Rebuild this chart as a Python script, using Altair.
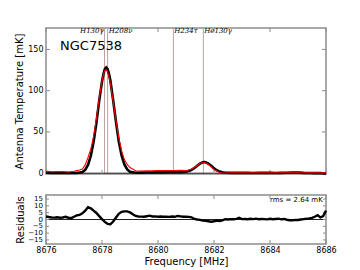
import altair as alt
import pandas as pd

# Spectrum (top panel)
freq = [8676.0, 8676.2, 8676.4, 8676.6, 8676.8, 8677.0, 8677.1, 8677.2, 8677.3, 8677.4,
        8677.5, 8677.6, 8677.7, 8677.8, 8677.9, 8678.0, 8678.05, 8678.1, 8678.15, 8678.2,
        8678.25, 8678.3, 8678.4, 8678.5, 8678.6, 8678.7, 8678.8, 8678.9, 8679.0, 8679.2,
        8679.4, 8679.6, 8679.8, 8680.0, 8680.2, 8680.4, 8680.6, 8680.8, 8681.0, 8681.1,
        8681.2, 8681.3, 8681.4, 8681.5, 8681.6, 8681.65, 8681.7, 8681.8, 8681.9, 8682.0,
        8682.1, 8682.2, 8682.3, 8682.4, 8682.6, 8682.8, 8683.0, 8683.2, 8683.4, 8683.6,
        8683.8, 8684.0, 8684.2, 8684.4, 8684.6, 8684.8, 8685.0, 8685.2, 8685.4, 8685.6,
        8685.8, 8686.0]
temp_data = [0.5, 0.3, 0.6, 0.4, 0.2, 0.3, 0.4, 0.8, 1.5, 4.0,
             10.0, 21.0, 38.0, 61.0, 88.0, 111.0, 120.0, 126.0, 128.0, 126.0,
             120.5, 112.0, 88.0, 62.0, 38.5, 21.5, 10.5, 4.6, 1.8, 0.6,
             0.7, 0.8, 0.9, 1.0, 1.0, 1.1, 1.1, 1.2, 1.8, 2.6,
             4.0, 6.3, 9.1, 11.6, 13.2, 13.4, 13.2, 11.6, 9.0, 6.0,
             3.6, 1.9, 1.0, 0.6, 0.4, 0.5, 0.4, 0.5, 0.3, 0.4,
             0.5, 0.4, 0.3, 0.4, 0.6, 0.9, 0.8, 0.4, 0.3, 0.1,
             0.3, -0.5]
temp_model = [2.5, 1.8, 2.1, 1.9, 1.4, 2.3, 3.1, 3.8, 5.0, 10.0,
              19.0, 29.0, 44.5, 66.0, 90.5, 111.5, 119.5, 124.5, 125.5, 123.0,
              116.8, 108.5, 86.5, 63.5, 42.5, 27.0, 16.5, 10.6, 6.8, 3.0,
              2.7, 2.9, 3.0, 3.1, 3.1, 3.2, 3.3, 3.4, 3.3, 3.8,
              5.0, 6.8, 9.3, 11.6, 12.9, 12.8, 12.5, 10.6, 7.8, 4.5,
              2.3, 0.9, 0.4, 0.3, 0.5, 0.6, 0.6, 0.6, 0.5, 0.5,
              0.5, 0.5, 0.5, 0.5, 0.5, 0.5, 0.5, 0.5, 0.4, 0.4,
              0.4, 0.4]

# Residuals (bottom panel)
res_freq = [8676.0, 8676.1, 8676.2, 8676.3, 8676.4, 8676.5, 8676.6, 8676.7, 8676.8, 8676.9,
            8677.0, 8677.1, 8677.2, 8677.3, 8677.4, 8677.5, 8677.6, 8677.7, 8677.8, 8677.9,
            8678.0, 8678.1, 8678.2, 8678.3, 8678.4, 8678.5, 8678.6, 8678.7, 8678.8, 8678.9,
            8679.0, 8679.1, 8679.2, 8679.3, 8679.4, 8679.5, 8679.6, 8679.7, 8679.8, 8679.9,
            8680.0, 8680.1, 8680.2, 8680.3, 8680.4, 8680.5, 8680.6, 8680.7, 8680.8, 8680.9,
            8681.0, 8681.1, 8681.2, 8681.3, 8681.4, 8681.5, 8681.6, 8681.7, 8681.8, 8681.9,
            8682.0, 8682.1, 8682.2, 8682.3, 8682.4, 8682.5, 8682.6, 8682.7, 8682.8, 8682.9,
            8683.0, 8683.1, 8683.2, 8683.3, 8683.4, 8683.5, 8683.6, 8683.7, 8683.8, 8683.9,
            8684.0, 8684.1, 8684.2, 8684.3, 8684.4, 8684.5, 8684.6, 8684.7, 8684.8, 8684.9,
            8685.0, 8685.1, 8685.2, 8685.3, 8685.4, 8685.5, 8685.6, 8685.7, 8685.8, 8685.9,
            8686.0]
residual = [2.2, 1.8, 1.5, 1.4, 1.6, 1.3, 1.5, 2.0, 1.3, 1.0,
            2.0, 3.0, 3.4, 4.5, 6.5, 9.0, 8.2, 6.5, 4.8, 2.5,
            0.3, -1.8, -3.2, -3.5, -1.5, 1.5, 4.2, 5.6, 6.0, 6.0,
            5.2, 3.8, 2.6, 2.2, 2.1, 2.0, 2.4, 2.8, 2.2, 2.3,
            2.0, 2.2, 2.0, 2.1, 1.9, 2.2, 2.0, 2.6, 2.3, 2.0,
            2.1, 1.9, 1.6, 0.4, 0.0, -0.3, -0.8, -1.0, -1.3, -1.6,
            -1.3, -0.8, -1.2, -0.6, 0.2, 0.0, 0.3, 0.2, 0.5, 1.2,
            0.3, 0.4, 0.2, 0.5, 0.3, 0.6, 0.2, 0.4, 0.3, 0.1,
            0.5, 0.2, 0.4, 0.6, 0.1, 0.4, -0.2, -0.5, -0.6, -0.3,
            -0.4, 0.0, 0.3, 0.5, 0.8, 1.2, 2.0, 3.2, 1.5, 2.5,
            6.5]

# Line identifications
line_names = ["H130γ", "H208ν", "H234τ", "He130γ"]
line_freq = [8678.09, 8678.20, 8680.55, 8681.62]
label_freq = [8678.06, 8678.24, 8680.58, 8681.65]
label_align = ["right", "left", "left", "left"]

x_ticks = [8676, 8678, 8680, 8682, 8684, 8686]
top_y_ticks = [0, 50, 100, 150]
res_y_ticks = [-15, -10, -5, 0, 5, 10, 15]
res_y_labels = ["−15", "−10", "−5", "0", "5", "10", "15"]

W, H1, H2 = 280, 146, 49
FRAME = "#8c8c8c"
FONT = "DejaVu Sans"

xscale = alt.Scale(domain=[8676, 8686], nice=False, zero=False)
yscale_top = alt.Scale(domain=[-1, 176], nice=False, zero=False)
yscale_res = alt.Scale(domain=[-18, 18], nice=False, zero=False)

spec = pd.DataFrame({"freq": freq, "data": temp_data, "model": temp_model})
res = pd.DataFrame({"freq": res_freq, "res": residual})
lines = pd.DataFrame({"name": line_names, "freq": line_freq, "lfreq": label_freq,
                      "align": label_align, "y": [172] * 4})
xt = pd.DataFrame({"x": x_ticks})
yt_top = pd.DataFrame({"y": top_y_ticks})
yt_res = pd.DataFrame({"y": res_y_ticks, "lab": res_y_labels})
zero = pd.DataFrame({"y": [0]})

x_noaxis = alt.X("freq:Q", scale=xscale, axis=None)

# ---------- top panel ----------
vlines = alt.Chart(lines).mark_rule(color="#bda3a3", strokeWidth=1).encode(
    x=alt.X("freq:Q", scale=xscale, axis=None))

zero_top = alt.Chart(zero).mark_rule(color="#222222", strokeWidth=1).encode(
    y=alt.Y("y:Q", scale=yscale_top))

data_line = alt.Chart(spec).mark_line(color="black", strokeWidth=2.6).encode(
    x=x_noaxis,
    y=alt.Y("data:Q", scale=yscale_top,
            axis=alt.Axis(values=top_y_ticks, title="Antenna Temperature [mK]",
                          titleFont=FONT, titleFontSize=10, titleFontWeight="normal",
                          titlePadding=3, labelFont=FONT, labelFontSize=8,
                          labelPadding=3, ticks=False, domain=False, grid=False,
                          labelColor="black", titleColor="black")))

model_line = alt.Chart(spec).mark_line(color="#ff0000", strokeWidth=1.1).encode(
    x=x_noaxis, y=alt.Y("model:Q", scale=yscale_top))

def labels_for(align):
    sub = lines[lines["align"] == align]
    return alt.Chart(sub).mark_text(font="DejaVu Serif", fontStyle="italic", fontSize=7,
                                    align=align, baseline="middle", color="black").encode(
        x=alt.X("lfreq:Q", scale=xscale, axis=None),
        y=alt.Y("y:Q", scale=yscale_top), text="name:N")

name_text = alt.Chart(pd.DataFrame({"x": [8676.5], "y": [154], "t": ["NGC7538"]})).mark_text(
    font=FONT, fontSize=13, align="left", baseline="middle", color="black").encode(
    x=alt.X("x:Q", scale=xscale, axis=None), y=alt.Y("y:Q", scale=yscale_top), text="t:N")

tick_col = FRAME
xt_top_b = alt.Chart(xt).mark_rule(color=tick_col).encode(
    x=alt.X("x:Q", scale=xscale, axis=None), y=alt.value(H1 - 4), y2=alt.value(H1))
xt_top_t = alt.Chart(xt).mark_rule(color=tick_col).encode(
    x=alt.X("x:Q", scale=xscale, axis=None), y=alt.value(0), y2=alt.value(4))
yt_top_l = alt.Chart(yt_top).mark_rule(color=tick_col).encode(
    y=alt.Y("y:Q", scale=yscale_top), x=alt.value(0), x2=alt.value(4))
yt_top_r = alt.Chart(yt_top).mark_rule(color=tick_col).encode(
    y=alt.Y("y:Q", scale=yscale_top), x=alt.value(W - 4), x2=alt.value(W))

top = alt.layer(vlines, zero_top, xt_top_b, xt_top_t, yt_top_l, yt_top_r,
                data_line, model_line, labels_for("right"), labels_for("left"),
                name_text).properties(width=W, height=H1)

# ---------- residual panel ----------
zero_res = alt.Chart(zero).mark_rule(color="#222222", strokeWidth=1).encode(
    y=alt.Y("y:Q", scale=yscale_res))

res_line = alt.Chart(res).mark_line(color="black", strokeWidth=2.4).encode(
    x=alt.X("freq:Q", scale=xscale,
            axis=alt.Axis(values=x_ticks, format="d", title="Frequency [MHz]",
                          titleFont=FONT, titleFontSize=10, titleFontWeight="normal",
                          titlePadding=2, labelFont=FONT, labelFontSize=8,
                          labelPadding=2, ticks=False, domain=False, grid=False,
                          labelFlush=False, labelColor="black", titleColor="black")),
    y=alt.Y("res:Q", scale=yscale_res,
            axis=alt.Axis(values=res_y_ticks, title="Residuals", labels=False,
                          titleFont=FONT, titleFontSize=10, titleFontWeight="normal",
                          titlePadding=21, ticks=False, domain=False, grid=False,
                          titleColor="black")))

res_ylabels = alt.Chart(yt_res).mark_text(
    font=FONT, fontSize=7, align="right", baseline="middle", color="black", clip=False
).encode(x=alt.value(-3), y=alt.Y("y:Q", scale=yscale_res), text="lab:N")

rms_text = alt.Chart(pd.DataFrame({"x": [8684.0], "y": [14], "t": ["rms =  2.64 mK"]})).mark_text(
    font=FONT, fontSize=7, align="left", baseline="middle", color="black").encode(
    x=alt.X("x:Q", scale=xscale), y=alt.Y("y:Q", scale=yscale_res), text="t:N")

xt_res_b = alt.Chart(xt).mark_rule(color=tick_col).encode(
    x=alt.X("x:Q", scale=xscale), y=alt.value(H2 - 4), y2=alt.value(H2))
xt_res_t = alt.Chart(xt).mark_rule(color=tick_col).encode(
    x=alt.X("x:Q", scale=xscale), y=alt.value(0), y2=alt.value(4))
yt_res_l = alt.Chart(yt_res).mark_rule(color=tick_col).encode(
    y=alt.Y("y:Q", scale=yscale_res), x=alt.value(0), x2=alt.value(3))
yt_res_r = alt.Chart(yt_res).mark_rule(color=tick_col).encode(
    y=alt.Y("y:Q", scale=yscale_res), x=alt.value(W - 3), x2=alt.value(W))

bottom = alt.layer(zero_res, xt_res_b, xt_res_t, yt_res_l, yt_res_r, res_line,
                   res_ylabels, rms_text).properties(width=W, height=H2)

chart = alt.vconcat(top, bottom, spacing=21, bounds="flush").properties(
    padding={"left": 5, "top": 18, "right": 5, "bottom": 2},
    background="white",
).configure_view(stroke=FRAME, strokeWidth=1.5)

chart.save("out.html", embed_options={"renderer": "svg", "actions": False})
